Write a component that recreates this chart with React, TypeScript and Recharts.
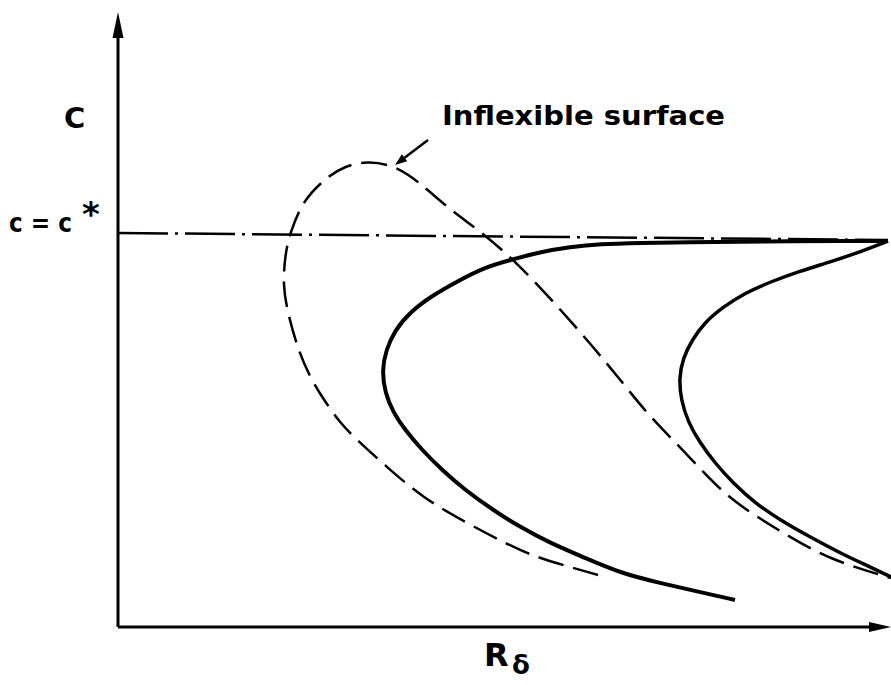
import { Line, LineChart, ReferenceLine, XAxis, YAxis } from 'recharts';

// Neutral curve for the inflexible surface: from its lower-left end, round the nose, down to the right edge
const inflexibleCurve = [
  { r: 480, c: 52 },
  { r: 452, c: 60 },
  { r: 417, c: 70 },
  { r: 385, c: 85 },
  { r: 347, c: 105 },
  { r: 305, c: 129 },
  { r: 270, c: 159 },
  { r: 239, c: 187 },
  { r: 222, c: 204 },
  { r: 204, c: 230 },
  { r: 192, c: 250 },
  { r: 180, c: 277 },
  { r: 169, c: 317 },
  { r: 165, c: 342 },
  { r: 167, c: 372 },
  { r: 172, c: 394 },
  { r: 185, c: 427 },
  { r: 209, c: 450 },
  { r: 227, c: 461 },
  { r: 249, c: 466 },
  { r: 275, c: 462 },
  { r: 299, c: 447 },
  { r: 332, c: 417 },
  { r: 365, c: 394 },
  { r: 399, c: 364 },
  { r: 432, c: 329 },
  { r: 472, c: 284 },
  { r: 504, c: 245 },
  { r: 532, c: 210 },
  { r: 565, c: 177 },
  { r: 599, c: 140 },
  { r: 625, c: 119 },
  { r: 665, c: 94 },
  { r: 712, c: 67 },
  { r: 773, c: 49 },
];

// Compliant-wall neutral curves (solid), both leaving the cusp at the top right
const innerCurve = [
  { r: 770, c: 386 },
  { r: 722, c: 386 },
  { r: 672, c: 386 },
  { r: 622, c: 385 },
  { r: 572, c: 385 },
  { r: 522, c: 384 },
  { r: 482, c: 383 },
  { r: 452, c: 380 },
  { r: 422, c: 375 },
  { r: 392, c: 367 },
  { r: 365, c: 359 },
  { r: 340, c: 346 },
  { r: 315, c: 332 },
  { r: 292, c: 315 },
  { r: 277, c: 297 },
  { r: 268, c: 277 },
  { r: 264, c: 257 },
  { r: 267, c: 234 },
  { r: 275, c: 215 },
  { r: 287, c: 197 },
  { r: 304, c: 177 },
  { r: 324, c: 157 },
  { r: 347, c: 137 },
  { r: 375, c: 117 },
  { r: 402, c: 100 },
  { r: 432, c: 84 },
  { r: 465, c: 70 },
  { r: 502, c: 54 },
  { r: 542, c: 44 },
  { r: 582, c: 35 },
  { r: 617, c: 27 },
];

const outerCurve = [
  { r: 770, c: 386 },
  { r: 742, c: 375 },
  { r: 712, c: 365 },
  { r: 682, c: 356 },
  { r: 652, c: 345 },
  { r: 627, c: 334 },
  { r: 605, c: 320 },
  { r: 587, c: 305 },
  { r: 574, c: 287 },
  { r: 565, c: 269 },
  { r: 561, c: 249 },
  { r: 563, c: 227 },
  { r: 570, c: 205 },
  { r: 582, c: 184 },
  { r: 597, c: 164 },
  { r: 615, c: 144 },
  { r: 637, c: 124 },
  { r: 662, c: 107 },
  { r: 692, c: 90 },
  { r: 722, c: 74 },
  { r: 750, c: 61 },
  { r: 773, c: 50 },
];

// c = c* asymptote
const cStarLine = [
  { r: 0, c: 394 },
  { r: 770, c: 387 },
];

const R_MAX = 773;
const C_MAX = 615;

function arrowShape(head: number, half: number, width: number) {
  return (props: any) => {
    const { x1, y1, x2, y2 } = props;
    const ang = Math.atan2(y2 - y1, x2 - x1);
    const bx = x2 - head * Math.cos(ang);
    const by = y2 - head * Math.sin(ang);
    const px = -Math.sin(ang) * half;
    const py = Math.cos(ang) * half;
    return (
      <g>
        <line x1={x1} y1={y1} x2={bx} y2={by} stroke="#000" strokeWidth={width} />
        <polygon
          points={`${x2},${y2} ${bx + px},${by + py} ${bx - px},${by - py}`}
          fill="#000"
        />
      </g>
    );
  };
}

const font = '"DejaVu Sans", sans-serif';

export default function App() {
  return (
    <div style={{ position: 'absolute', left: 0, top: 0, width: 891, height: 685, background: '#fff' }}>
      <LineChart width={891} height={685} margin={{ top: 12, right: 0, bottom: 58, left: 118 }}>
        <XAxis type="number" dataKey="r" domain={[0, R_MAX]} hide />
        <YAxis type="number" dataKey="c" domain={[0, C_MAX]} hide />
        <ReferenceLine
          segment={[{ x: 0, y: 0 }, { x: 0, y: C_MAX }]}
          shape={arrowShape(26, 5.5, 3)}
        />
        <ReferenceLine
          segment={[{ x: 0, y: 0 }, { x: R_MAX, y: 0 }]}
          shape={arrowShape(22, 5, 3)}
        />
        <ReferenceLine
          segment={[{ x: 310, y: 487 }, { x: 277, y: 462 }]}
          shape={arrowShape(12, 4.5, 2.5)}
        />
        <Line
          data={cStarLine}
          dataKey="c"
          type="linear"
          stroke="#000"
          strokeWidth={2.5}
          strokeDasharray="50 7 3 7"
          dot={false}
          activeDot={false}
          isAnimationActive={false}
        />
        <Line
          data={inflexibleCurve}
          dataKey="c"
          type="basis"
          stroke="#000"
          strokeWidth={2.5}
          strokeDasharray="26 10"
          dot={false}
          activeDot={false}
          isAnimationActive={false}
        />
        <Line
          data={innerCurve}
          dataKey="c"
          type="basis"
          stroke="#000"
          strokeWidth={4}
          dot={false}
          activeDot={false}
          isAnimationActive={false}
        />
        <Line
          data={outerCurve}
          dataKey="c"
          type="basis"
          stroke="#000"
          strokeWidth={3.5}
          dot={false}
          activeDot={false}
          isAnimationActive={false}
        />
      </LineChart>
      <svg
        width={891}
        height={685}
        style={{ position: 'absolute', left: 0, top: 0, pointerEvents: 'none' }}
      >
        <g fontFamily={font} fontWeight="bold" fill="#000">
          <text x={64} y={128} fontSize={29}>C</text>
          <text x={9} y={232} fontSize={26} textLength={63} lengthAdjust="spacingAndGlyphs">c = c</text>
          <text x={82} y={226} fontSize={34}>*</text>
          <text x={442} y={125} fontSize={27} textLength={283} lengthAdjust="spacingAndGlyphs">
            Inflexible surface
          </text>
          <text x={484} y={666} fontSize={32}>R</text>
          <text x={512} y={674} fontSize={26}>δ</text>
        </g>
      </svg>
    </div>
  );
}
